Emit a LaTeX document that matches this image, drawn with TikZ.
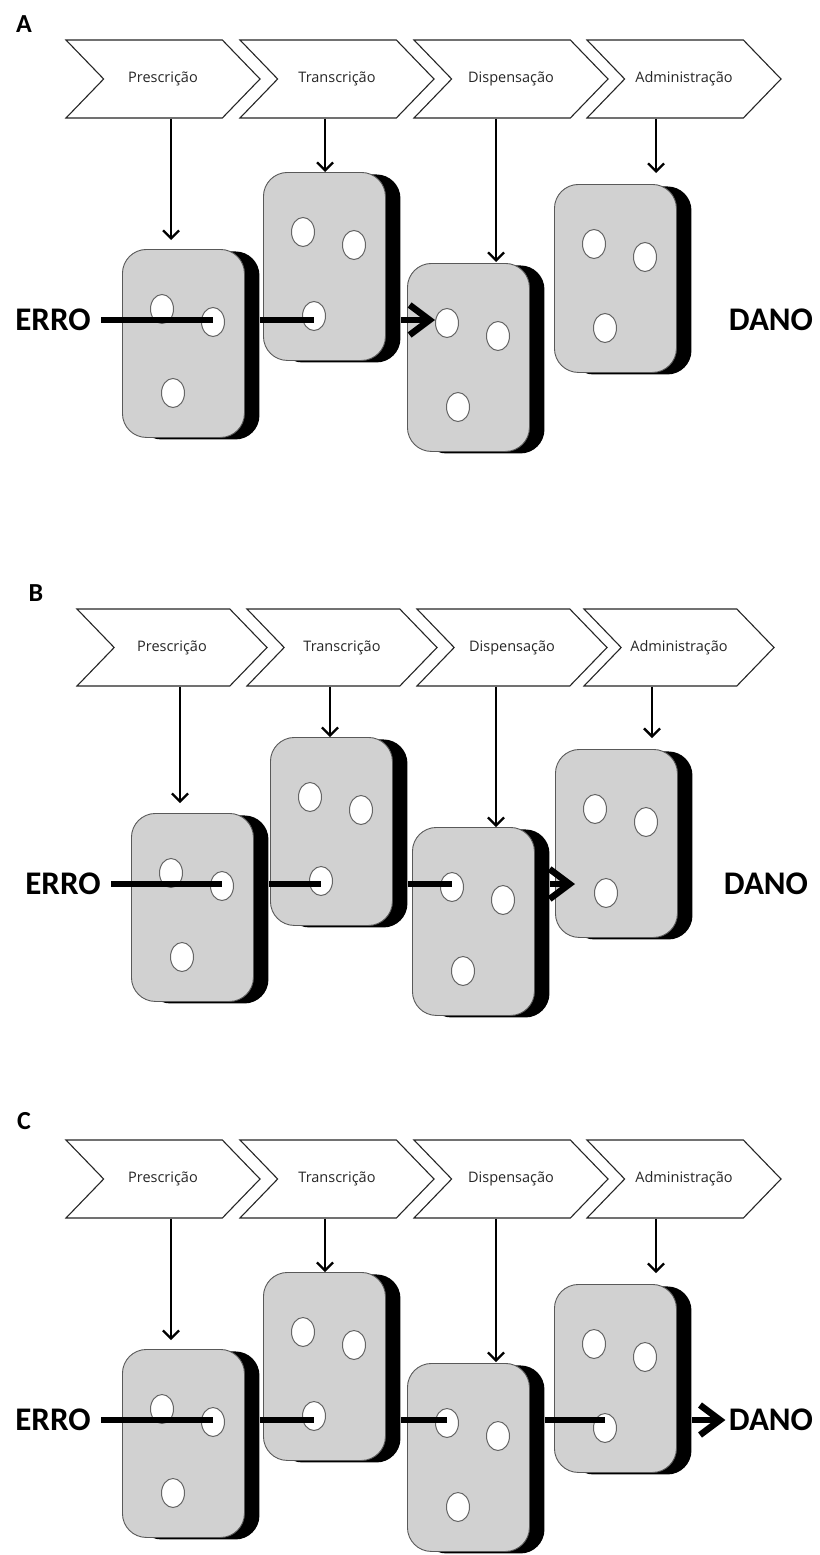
\documentclass[tikz,border=0pt]{standalone}
\usepackage{fontspec}
\usepackage{tikz}
\usetikzlibrary{shapes.symbols}
\usetikzlibrary{shapes.geometric}
\usetikzlibrary{shadows}
\usetikzlibrary{arrows.meta}
\newfontfamily\stagefont{Open Sans}
\newfontfamily\tagfont{Carlito}

\tikzset{
  stage/.style={signal, signal from=west, signal to=east, signal pointer angle=92,
    minimum width=194pt, minimum height=78pt, inner sep=0pt, draw=black!85,
    line width=1.1pt, fill=white, text=black!85,
    font=\stagefont\fontsize{14.5}{16}\selectfont},
  slice/.style={rectangle, rounded corners=24pt, minimum width=122pt,
    minimum height=188pt, inner sep=0pt, anchor=north west, fill=black!18,
    draw=black!65, line width=0.9pt,
    general shadow={shadow xshift=15pt, shadow yshift=-2pt, fill=black}},
  hole/.style={ellipse, minimum width=23pt, minimum height=29pt, inner sep=0pt,
    fill=white, draw=black!60, line width=1pt},
  feed/.style={line width=2.3pt, -{Straight Barb[length=8pt,width=16pt]}},
  errpath/.style={line width=6.5pt},
  hitpath/.style={line width=6.5pt, -{Straight Barb[length=20pt,width=30pt]}},
  endword/.style={font=\tagfont\bfseries\fontsize{33}{36}\selectfont},
  panel/.style={font=\tagfont\bfseries\fontsize{26}{28}\selectfont}
}

\begin{document}
\begin{tikzpicture}[x=1pt, y=-1pt]
      \useasboundingbox (0,0) rectangle (819,1555);

      %% Panel A
      \node[panel] (pA) at (24,24) {A};
      \foreach \i/\x/\t in {1/66/Prescrição, 2/240/Transcrição, 3/414/Dispensação, 4/587/Administração}
        \node[stage] (cA\i) at ({\x+97},79) {\t};
      \foreach \i/\x/\y in {1/122/249, 2/263/172, 3/407/263, 4/554/184}
      {%
        \node[slice] (sA\i) at (\x,\y) {};
        \node[hole] (hA\i1) at ({\x+40},{\y+60}) {};
        \node[hole] (hA\i2) at ({\x+91},{\y+73}) {};
        \node[hole] (hA\i3) at ({\x+51},{\y+144}) {};
      }
      \foreach \i/\ax/\gap in {1/171/9pt, 2/325/0pt, 3/496/1pt, 4/656/11pt}
        \draw[feed, shorten >=\gap] (cA\i.south -| \ax,0) -- (sA\i.north -| \ax,0);
      \node[endword] (eA) at (53,320) {ERRO};
      \node[endword] (dA) at (771,320) {DANO};
      \draw[errpath] ([xshift=7pt]eA.east) -- (eA -| hA12);
      \draw[errpath] ([xshift=15pt]sA1.east |- eA) -- (eA -| hA23);
      \draw[hitpath] ([xshift=15pt]sA2.east |- eA) -- (hA31.west |- eA);

      %% Panel B
      \node[panel] (pB) at (36,593) {B};
      \foreach \i/\x/\t in {1/77/Prescrição, 2/247/Transcrição, 3/417/Dispensação, 4/584/Administração}
        \node[stage, minimum width=190pt, minimum height=77pt] (cB\i) at ({\x+95},647.5) {\t};
      \foreach \i/\x/\y in {1/131/813, 2/270/737, 3/412/827, 4/555/749}
      {%
        \node[slice] (sB\i) at (\x,\y) {};
        \node[hole] (hB\i1) at ({\x+40},{\y+60}) {};
        \node[hole] (hB\i2) at ({\x+91},{\y+73}) {};
        \node[hole] (hB\i3) at ({\x+51},{\y+144}) {};
      }
      \foreach \i/\ax/\gap in {1/180/10pt, 2/330/0pt, 3/496/0pt, 4/652/11pt}
        \draw[feed, shorten >=\gap] (cB\i.south -| \ax,0) -- (sB\i.north -| \ax,0);
      \node[endword] (eB) at (63,884) {ERRO};
      \node[endword] (dB) at (766,884) {DANO};
      \draw[errpath] ([xshift=7pt]eB.east) -- (eB -| hB12);
      \draw[errpath] ([xshift=15pt]sB1.east |- eB) -- (eB -| hB23);
      \draw[errpath] ([xshift=15pt]sB2.east |- eB) -- (eB -| hB31);
      \draw[hitpath] ([xshift=15pt]sB3.east |- eB) -- ([xshift=-19pt]hB43.west |- eB);

      %% Panel C
      \node[panel] (pC) at (24,1121) {C};
      \foreach \i/\x/\t in {1/66/Prescrição, 2/240/Transcrição, 3/414/Dispensação, 4/587/Administração}
        \node[stage] (cC\i) at ({\x+97},1179) {\t};
      \foreach \i/\x/\y in {1/122/1349, 2/263/1272, 3/407/1363, 4/554/1284}
      {%
        \node[slice] (sC\i) at (\x,\y) {};
        \node[hole] (hC\i1) at ({\x+40},{\y+60}) {};
        \node[hole] (hC\i2) at ({\x+91},{\y+73}) {};
        \node[hole] (hC\i3) at ({\x+51},{\y+144}) {};
      }
      \foreach \i/\ax/\gap in {1/171/9pt, 2/325/0pt, 3/496/1pt, 4/656/11pt}
        \draw[feed, shorten >=\gap] (cC\i.south -| \ax,0) -- (sC\i.north -| \ax,0);
      \node[endword] (eC) at (53,1420) {ERRO};
      \node[endword] (dC) at (771,1420) {DANO};
      \draw[errpath] ([xshift=7pt]eC.east) -- (eC -| hC12);
      \draw[errpath] ([xshift=15pt]sC1.east |- eC) -- (eC -| hC23);
      \draw[errpath] ([xshift=15pt]sC2.east |- eC) -- (eC -| hC31);
      \draw[errpath] ([xshift=15pt]sC3.east |- eC) -- (eC -| hC43);
      \draw[hitpath] ([xshift=15pt]sC4.east |- eC) -- (dC.west);

    \end{tikzpicture}
\end{document}
